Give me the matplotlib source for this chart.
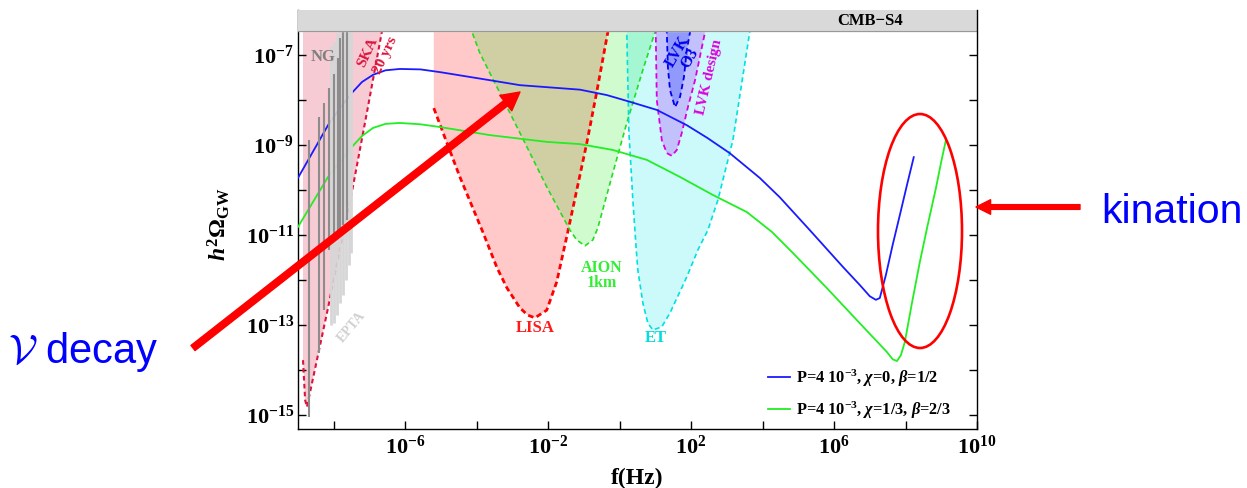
import numpy as np
import matplotlib.pyplot as plt
from matplotlib.patches import Ellipse

# ==========================================================
# Fonts
# ==========================================================

plt.rcParams.update({
    "font.family": "serif",
    "font.serif": ["Liberation Serif"],
    "font.weight": "bold",
    "axes.labelweight": "bold",
    "mathtext.fontset": "custom",
    "mathtext.rm": "Liberation Serif:bold",
    "mathtext.it": "Liberation Serif:italic:bold",
    "mathtext.bf": "Liberation Serif:bold",
})

# ==========================================================
# Data (log10 values)
# ==========================================================

# GW spectra
blue_logf = [-9.0, -8.16, -7.83, -7.49, -7.21, -6.90, -6.55, -6.15, -5.57, -5.03,
             -3.63, -2.79, -1.95, -1.11, -0.36, 0.29, 1.04, 1.88, 2.45, 3.08,
             3.92, 4.48, 5.32, 6.25, 6.72, 7.0, 7.17, 7.28, 7.45, 7.64,
             7.84, 8.04, 8.23]
blue_logomega = [-9.73, -8.56, -8.18, -7.84, -7.60, -7.44, -7.34, -7.31, -7.32, -7.38,
                 -7.56, -7.67, -7.72, -7.77, -7.89, -8.04, -8.22, -8.56, -8.84, -9.18,
                 -9.73, -10.16, -10.89, -11.71, -12.11, -12.36, -12.44, -12.40, -11.89, -11.22,
                 -10.56, -9.89, -9.27]

green_logf = [-9.0, -8.16, -7.49, -7.21, -6.90, -6.55, -6.15, -5.57, -5.03, -3.63,
              -2.04, -1.11, -0.19, 0.76, 1.69, 2.61, 3.56, 4.26, 4.85, 5.80,
              6.72, 7.48, 7.64, 7.76, 7.87, 7.98, 8.18, 8.40, 8.62, 8.85,
              9.01, 9.13]
green_logomega = [-10.82, -9.71, -9.04, -8.80, -8.62, -8.53, -8.51, -8.54, -8.60, -8.78,
                  -8.93, -8.98, -9.11, -9.33, -9.71, -10.11, -10.49, -10.93, -11.40, -12.18,
                  -12.96, -13.60, -13.76, -13.80, -13.67, -13.38, -12.51, -11.60, -10.78, -9.96,
                  -9.33, -8.89]

legend_labels = [r"P=4 10$^{-3}$, $\chi$=0, $\beta$=1/2",
                 r"P=4 10$^{-3}$, $\chi$=1/3, $\beta$=2/3"]

# detector sensitivity regions
ska_logf = [-8.86, -8.86, -8.80, -8.75, -8.52, -8.16, -7.83, -7.49, -7.07, -6.65, -6.54]
ska_logomega = [-6.0, -13.78, -14.67, -14.82, -13.96, -12.62, -11.33, -10.04, -8.27, -6.47, -6.0]

lisa_logf = [-5.20, -5.20, -4.83, -4.47, -3.83, -3.43, -3.15, -2.79, -2.57, -2.37,
             -2.04, -1.76, -1.45, -1.17, -0.92, -0.64, -0.33, -0.22]
lisa_logomega = [-6.0, -8.18, -8.96, -9.71, -10.93, -11.73, -12.18, -12.62, -12.78, -12.84,
                 -12.67, -12.04, -10.93, -9.89, -8.96, -7.82, -6.49, -6.0]

aion_logf = [-4.36, -4.13, -3.91, -2.79, -2.04, -1.39, -1.20, -0.97, -0.75, -0.61,
             -0.19, 0.20, 0.65, 0.99, 1.18]
aion_logomega = [-6.0, -6.49, -6.96, -8.73, -9.93, -10.89, -11.11, -11.24, -11.11, -10.84,
                 -9.62, -8.51, -7.33, -6.49, -6.0]

et_logf = [0.18, 0.20, 0.26, 0.37, 0.46, 0.51, 0.65, 0.79, 0.93, 1.18,
           1.41, 1.88, 2.19, 2.47, 2.75, 3.17, 3.64, 3.73]
et_logomega = [-6.0, -6.49, -8.73, -10.22, -11.27, -11.78, -12.51, -12.96, -13.11, -13.04,
               -12.73, -11.93, -11.33, -10.89, -10.22, -8.89, -6.49, -6.0]

lvk_design_logf = [0.99, 1.01, 1.04, 1.18, 1.32, 1.46, 1.60, 1.74, 1.91, 2.11, 2.39, 2.50]
lvk_design_logomega = [-6.0, -6.49, -8.0, -8.89, -9.18, -9.24, -9.11, -8.73, -8.16, -7.56, -6.49, -6.0]

lvk_o3_logf = [1.29, 1.32, 1.35, 1.41, 1.55, 1.69, 1.80, 1.88, 1.97, 2.02]
lvk_o3_logomega = [-6.0, -6.49, -7.27, -7.78, -8.16, -7.93, -7.49, -6.89, -6.49, -6.0]

cmb_s4_logomega = -6.47

# pulsar timing posteriors (vertical strokes)
ng_logf = [-8.69, -8.41, -8.27, -8.13, -7.99, -7.88, -7.83, -7.74, -7.63]
ng_low = [-15.04, -13.62, -12.67, -11.33, -11.11, -11.0, -10.89, -10.78, -10.67]
ng_high = [-8.89, -8.38, -8.07, -7.73, -7.42, -7.07, -6.62, -6.49, -6.40]

epta_logf = [-8.08, -7.99, -7.91, -7.83, -7.74, -7.66, -7.57, -7.52]
epta_low = [-13.0, -12.96, -12.78, -12.51, -12.33, -12.0, -11.67, -11.4]
epta_high = [-6.8, -6.7, -6.5, -6.4, -6.4, -6.4, -6.4, -6.4]

# ==========================================================
# Figure
# ==========================================================

W, H = 1247, 488
fig = plt.figure(figsize=(W / 100, H / 100), dpi=100)
ax = fig.add_axes([298 / W, 59 / H, 679 / W, 419 / H])


def pw(v):
    return 10 ** np.asarray(v, dtype=float)


def fig_xy(x, y):
    # pixel position (from top-left) -> figure fraction
    return (x / W, 1 - y / H)


ax.set_xscale("log")
ax.set_yscale("log")
ax.set_xlim(1e-9, 1e10)
ax.set_ylim(10 ** -15.31, 1e-6)

# sensitivity regions
regions = [
    (ska_logf, ska_logomega, "crimson", 0.22, (0, (2.2, 1.6)), 1.5, 1),
    (lisa_logf, lisa_logomega, "red", 0.21, (0, (2.0, 1.3)), 2.0, 1),
    (aion_logf, aion_logomega, "#00ee00", 0.19, (0, (3.0, 2.0)), 1.2, 0),
    (et_logf, et_logomega, "#00e8e8", 0.2, (0, (3.0, 2.0)), 1.2, 0),
    (lvk_design_logf, lvk_design_logomega, "#b040ff", 0.3, (0, (3.0, 2.0)), 1.3, 0),
    (lvk_o3_logf, lvk_o3_logomega, "#2040ff", 0.3, (0, (3.0, 2.0)), 1.3, 0),
]
edge_colors = ["crimson", "red", "#22dd22", "#00e0e0", "#dd00dd", "#0000ee"]

for (lf, lo, c, a, ls, lw, skip), ec in zip(regions, edge_colors):
    ax.fill(pw(lf), pw(lo), color=c, alpha=a, lw=0, zorder=1)
    ax.plot(pw(lf[skip:]), pw(lo[skip:]), color=ec, ls=ls, lw=lw, zorder=2)

# spectra
ax.plot(pw(blue_logf), pw(blue_logomega), color="#1a1aff", lw=1.3, zorder=3,
        label=legend_labels[0])
ax.plot(pw(green_logf), pw(green_logomega), color="#22ee22", lw=1.3, zorder=3,
        label=legend_labels[1])

# pulsar timing strokes
ax.vlines(pw(epta_logf), pw(epta_low), pw(epta_high), color="#d6d6d6", lw=2.0, zorder=4)
ax.vlines(pw(ng_logf), pw(ng_low), pw(ng_high), color="#8c8c8c", lw=1.5, zorder=4)

# CMB-S4 band
ax.axhspan(10 ** cmb_s4_logomega, 1e-6, color="#d9d9d9", zorder=6)
ax.axhline(10 ** cmb_s4_logomega, color="#999999", lw=0.8, zorder=6)
ax.text(pw(7.0), pw(-6.24), "CMB\u2212S4", fontsize=12, ha="center", va="center", zorder=7)

# region labels
ax.text(pw(-8.30), pw(-7.04), "NG", color="#808080", fontsize=12, ha="center", va="center", zorder=5)
ax.text(pw(-7.04), pw(-6.95), "SKA", color="crimson", fontsize=11, rotation=65,
        ha="center", va="center", zorder=5)
ax.text(pw(-6.54), pw(-7.00), "20 yrs", color="crimson", fontsize=11, rotation=65,
        ha="center", va="center", zorder=5)
ax.text(pw(-7.49), pw(-13.04), "EPTA", color="#d0d0d0", fontsize=10, rotation=50,
        ha="center", va="center", zorder=5)
ax.text(pw(-2.37), pw(-13.06), "LISA", color="#ff1a1a", fontsize=12, ha="center", va="center")
ax.text(pw(-0.50), pw(-11.90), "AION\n1km", color="#33ee33", fontsize=11.5, ha="center",
        va="center", linespacing=0.85)
ax.text(pw(1.01), pw(-13.29), "ET", color="#00dede", fontsize=12, ha="center", va="center")
ax.text(pw(1.80), pw(-7.0), "LVK\nO3", color="#0000ee", fontsize=11.5, rotation=60,
        ha="center", va="center", linespacing=0.85, zorder=5)
ax.text(pw(2.52), pw(-7.49), "LVK design", color="#dd00dd", fontsize=11, rotation=77,
        ha="center", va="center", zorder=5)

# axes styling
for s in ["left", "bottom", "right"]:
    ax.spines[s].set_linewidth(1.0)
ax.spines["top"].set_visible(False)
ax.spines["right"].set_zorder(8)

ax.xaxis.set_minor_locator(plt.NullLocator())
ax.yaxis.set_minor_locator(plt.NullLocator())

x_exp = [-8, -6, -4, -2, 0, 2, 4, 6, 8, 10]
ax.set_xticks(pw(x_exp))
ax.set_xticklabels([r"$10^{%d}$" % e if e in (-6, -2, 2, 6, 10) else "" for e in x_exp])

y_exp = [-15, -14, -13, -12, -11, -10, -9, -8, -7]
ax.set_yticks(pw(y_exp))
ax.set_yticklabels([r"$10^{%d}$" % e if e % 2 else "" for e in y_exp])

ax.tick_params(which="both", direction="in", length=6, width=1, top=False, right=True,
               labelsize=16)
ax.tick_params(axis="y", pad=3)
ax.tick_params(axis="x", pad=5)

ax.set_xlabel("f(Hz)", fontsize=17, fontweight="bold", labelpad=6)
ax.set_ylabel(r"$h^2\Omega_{\rm GW}$", fontsize=17)
ax.yaxis.set_label_coords(-0.097, 0.49)

ax.legend(loc="lower right", bbox_to_anchor=(0.962, 0.02), frameon=False, fontsize=11.8,
          handlelength=1.3, handletextpad=0.4, labelspacing=0.62, borderpad=0,
          borderaxespad=0)

# ==========================================================
# Annotations
# ==========================================================

ax.add_patch(Ellipse(fig_xy(920, 231), 84 / W, 234 / H, fill=False, edgecolor="red",
                     lw=1.9, transform=fig.transFigure, clip_on=False, zorder=20))

ax.annotate("", xy=fig_xy(976, 207), xycoords="figure fraction",
            xytext=fig_xy(1080, 207), textcoords="figure fraction",
            arrowprops=dict(color="red", width=3.4, headwidth=10.5, headlength=10.5, shrink=0),
            annotation_clip=False, zorder=20)
ax.annotate("", xy=fig_xy(520, 92), xycoords="figure fraction",
            xytext=fig_xy(193, 348), textcoords="figure fraction",
            arrowprops=dict(color="red", width=4.7, headwidth=14, headlength=13, shrink=0),
            annotation_clip=False, zorder=20)

fig.text(1101 / W, 1 - 223 / H, "kination", color="blue", fontsize=29.5,
         family="Liberation Sans", weight="normal", va="baseline")
fig.text(8 / W, 1 - 363 / H, r"$\mathcal{V}$ decay", color="blue", fontsize=30,
         family="Liberation Sans", weight="normal", va="baseline", math_fontfamily="cm")

fig.savefig("out.png", dpi=100)
